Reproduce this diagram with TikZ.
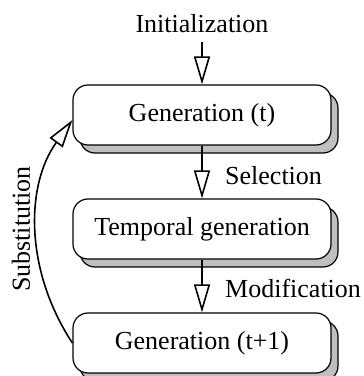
\documentclass[tikz,border=0pt]{standalone}
\usepackage{fontspec}
\setmainfont{Liberation Serif}
\usetikzlibrary{arrows.meta,shadows}

\begin{document}
\begin{tikzpicture}[x=1pt,y=1pt, line join=round,
		font=\fontsize{26}{30}\selectfont,
		hollow/.style={-{Triangle[open,length=28pt,width=16pt,line width=1.6pt]}},
		genbox/.style={draw,line width=1.2pt,fill=white,rounded corners=15pt,
			minimum width=258pt,minimum height=60pt,inner sep=0pt,
			drop shadow={shadow xshift=7pt,shadow yshift=-8pt,fill=black!25,opacity=1,draw=black,line width=1.2pt}}]
	\useasboundingbox (0,0) rectangle (364,376);
	% boxes
	\node[genbox] (g1) at (202,261) {Generation (t)};
	\node[genbox] (g2) at (202,147) {Temporal generation};
	\node[genbox] (g3) at (202,33) {Generation (t+1)};
	% labels
	\node[anchor=base,inner sep=0pt] (init) at (202,343) {Initialization};
	\node[anchor=base west,inner sep=0pt] (sel) at (225,191) {Selection};
	\node[anchor=base west,inner sep=0pt] (mod) at (225,78) {Modification};
	\node[anchor=base,rotate=90,inner sep=0pt] (subst) at (30,147) {Substitution};
	% arrows
	\draw[hollow,line width=2pt] ([yshift=-9pt]init.south) -- (g1.north);
	\draw[hollow,line width=2pt] (g1.south) -- (g2.north);
	\draw[hollow,line width=2pt] (g2.south) -- (g3.north);
	\draw[hollow,line width=1.6pt] (g3.west) .. controls (25,105) and (25,190) .. ([yshift=-5pt]g1.west);
\end{tikzpicture}
\end{document}
